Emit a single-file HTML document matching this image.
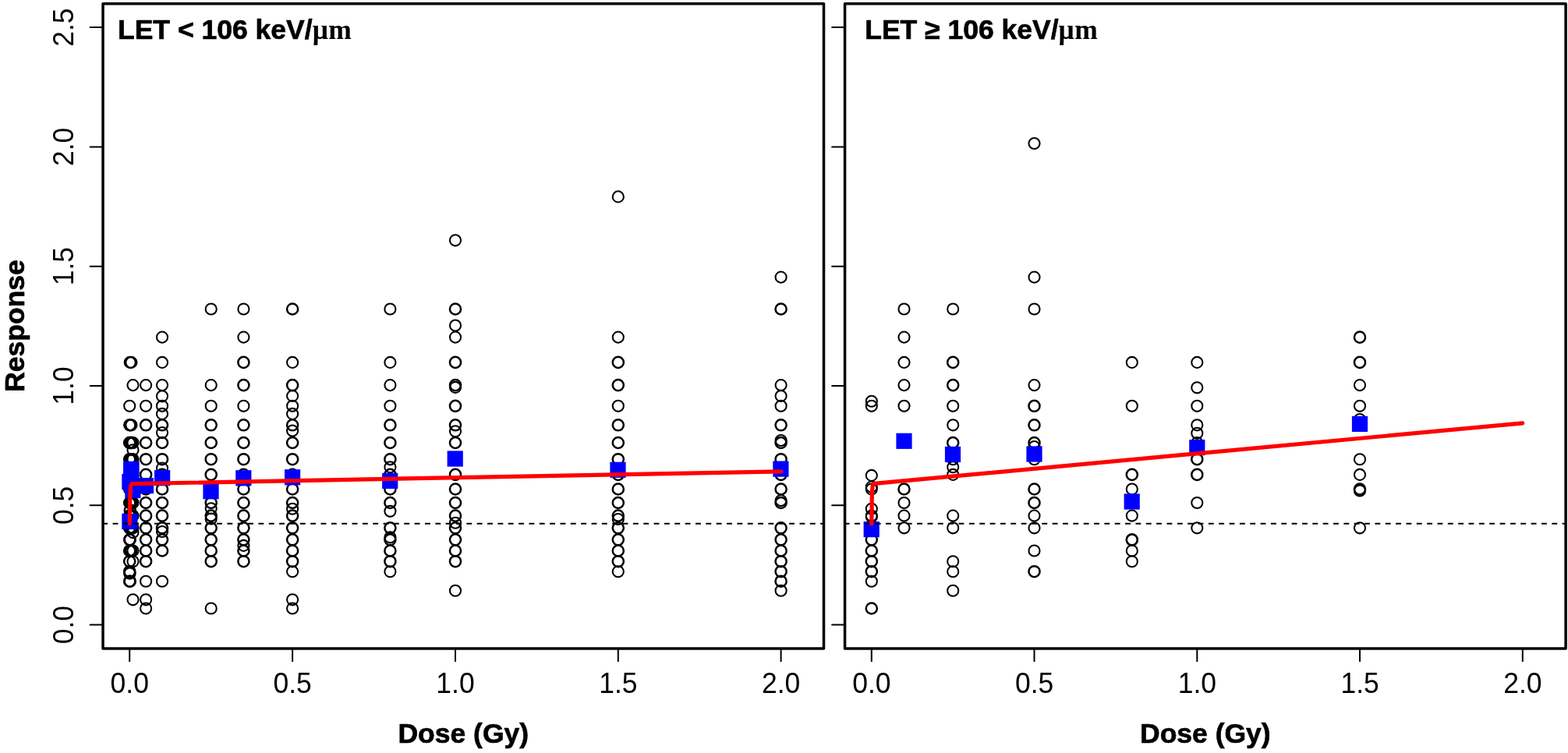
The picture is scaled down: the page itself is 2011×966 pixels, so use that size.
<!DOCTYPE html>
<html lang="en"><head><meta charset="utf-8"><title>Dose response by LET</title>
<style>
html,body{margin:0;padding:0;background:#fff;}
body{width:2011px;height:966px;overflow:hidden;}
svg{display:block;}
text{font-family:"Liberation Sans",Arial,Helvetica,sans-serif;fill:#000;}
.b{font-weight:bold;stroke:#000;stroke-width:0.7px;stroke-linejoin:round;}
.s{font-family:"Liberation Serif","Times New Roman",serif;font-weight:bold;stroke:none;letter-spacing:0.6px;}
.c{fill:none;stroke:#000;stroke-width:2.05;}
.k{stroke-width:2.5;}
.q{fill:#0000ff;}
.t{stroke:#000;stroke-width:2.0;fill:none;stroke-linecap:round;}
.bx{stroke:#000;stroke-width:3.5;fill:none;stroke-linejoin:round;}
.r{stroke:#ff0000;stroke-width:5.2;fill:none;stroke-linecap:round;stroke-linejoin:round;}
.d{stroke:#000;stroke-width:2.0;fill:none;stroke-dasharray:6.9 6.447;}
</style></head><body>
<svg width="2011" height="966" viewBox="0 0 2011 966">
<rect width="2011" height="966" fill="#fff"/>
<g>
<circle class="c" cx="187.1" cy="780.5" r="7.05"/>
<circle class="c" cx="187.1" cy="769.3" r="7.05"/>
<circle class="c" cx="187.1" cy="745.7" r="7.05"/>
<circle class="c k" cx="187.1" cy="720.2" r="7.05"/>
<circle class="c k" cx="187.1" cy="706.5" r="7.05"/>
<circle class="c k" cx="187.1" cy="692.3" r="7.05"/>
<circle class="c k" cx="187.1" cy="677.3" r="7.05"/>
<circle class="c k" cx="187.1" cy="661.6" r="7.05"/>
<circle class="c k" cx="187.1" cy="645.0" r="7.05"/>
<circle class="c k" cx="187.1" cy="627.5" r="7.05"/>
<circle class="c k" cx="187.1" cy="608.9" r="7.05"/>
<circle class="c k" cx="187.1" cy="589.2" r="7.05"/>
<circle class="c k" cx="187.1" cy="568.0" r="7.05"/>
<circle class="c k" cx="187.1" cy="545.3" r="7.05"/>
<circle class="c" cx="187.1" cy="520.8" r="7.05"/>
<circle class="c" cx="187.1" cy="494.1" r="7.05"/>
<circle class="c" cx="208.0" cy="745.7" r="7.05"/>
<circle class="c k" cx="208.0" cy="706.5" r="7.05"/>
<circle class="c k" cx="208.0" cy="692.3" r="7.05"/>
<circle class="c k" cx="208.0" cy="677.3" r="7.05"/>
<circle class="c k" cx="208.0" cy="661.6" r="7.05"/>
<circle class="c k" cx="208.0" cy="645.0" r="7.05"/>
<circle class="c k" cx="208.0" cy="627.5" r="7.05"/>
<circle class="c k" cx="208.0" cy="608.9" r="7.05"/>
<circle class="c k" cx="208.0" cy="589.2" r="7.05"/>
<circle class="c k" cx="208.0" cy="568.0" r="7.05"/>
<circle class="c k" cx="208.0" cy="545.3" r="7.05"/>
<circle class="c" cx="208.0" cy="520.8" r="7.05"/>
<circle class="c" cx="208.0" cy="494.1" r="7.05"/>
<circle class="c" cx="208.0" cy="464.9" r="7.05"/>
<circle class="c" cx="208.0" cy="432.6" r="7.05"/>
<circle class="c" cx="208.0" cy="682.0" r="7.05"/>
<circle class="c" cx="208.0" cy="600.6" r="7.05"/>
<circle class="c" cx="208.0" cy="508.3" r="7.05"/>
<circle class="c" cx="208.0" cy="530.9" r="7.05"/>
<circle class="c" cx="208.0" cy="555.1" r="7.05"/>
<circle class="c" cx="270.7" cy="780.5" r="7.05"/>
<circle class="c k" cx="270.7" cy="720.2" r="7.05"/>
<circle class="c k" cx="270.7" cy="706.5" r="7.05"/>
<circle class="c k" cx="270.7" cy="692.3" r="7.05"/>
<circle class="c k" cx="270.7" cy="677.3" r="7.05"/>
<circle class="c k" cx="270.7" cy="661.6" r="7.05"/>
<circle class="c k" cx="270.7" cy="645.0" r="7.05"/>
<circle class="c k" cx="270.7" cy="627.5" r="7.05"/>
<circle class="c k" cx="270.7" cy="608.9" r="7.05"/>
<circle class="c k" cx="270.7" cy="589.2" r="7.05"/>
<circle class="c k" cx="270.7" cy="568.0" r="7.05"/>
<circle class="c k" cx="270.7" cy="545.3" r="7.05"/>
<circle class="c" cx="270.7" cy="520.8" r="7.05"/>
<circle class="c" cx="270.7" cy="494.1" r="7.05"/>
<circle class="c" cx="270.7" cy="396.5" r="7.05"/>
<circle class="c" cx="270.7" cy="652.2" r="7.05"/>
<circle class="c" cx="270.7" cy="665.5" r="7.05"/>
<circle class="c k" cx="312.4" cy="720.2" r="7.05"/>
<circle class="c k" cx="312.4" cy="706.5" r="7.05"/>
<circle class="c k" cx="312.4" cy="692.3" r="7.05"/>
<circle class="c k" cx="312.4" cy="677.3" r="7.05"/>
<circle class="c k" cx="312.4" cy="661.6" r="7.05"/>
<circle class="c k" cx="312.4" cy="645.0" r="7.05"/>
<circle class="c k" cx="312.4" cy="627.5" r="7.05"/>
<circle class="c k" cx="312.4" cy="608.9" r="7.05"/>
<circle class="c k" cx="312.4" cy="589.2" r="7.05"/>
<circle class="c k" cx="312.4" cy="568.0" r="7.05"/>
<circle class="c k" cx="312.4" cy="545.3" r="7.05"/>
<circle class="c" cx="312.4" cy="520.8" r="7.05"/>
<circle class="c k" cx="312.4" cy="494.1" r="7.05"/>
<circle class="c k" cx="312.4" cy="464.9" r="7.05"/>
<circle class="c" cx="312.4" cy="432.6" r="7.05"/>
<circle class="c" cx="312.4" cy="396.5" r="7.05"/>
<circle class="c" cx="312.4" cy="699.9" r="7.05"/>
<circle class="c" cx="375.1" cy="780.5" r="7.05"/>
<circle class="c" cx="375.1" cy="769.3" r="7.05"/>
<circle class="c" cx="375.1" cy="733.2" r="7.05"/>
<circle class="c k" cx="375.1" cy="720.2" r="7.05"/>
<circle class="c k" cx="375.1" cy="706.5" r="7.05"/>
<circle class="c k" cx="375.1" cy="692.3" r="7.05"/>
<circle class="c k" cx="375.1" cy="677.3" r="7.05"/>
<circle class="c k" cx="375.1" cy="661.6" r="7.05"/>
<circle class="c k" cx="375.1" cy="645.0" r="7.05"/>
<circle class="c k" cx="375.1" cy="627.5" r="7.05"/>
<circle class="c k" cx="375.1" cy="608.9" r="7.05"/>
<circle class="c k" cx="375.1" cy="589.2" r="7.05"/>
<circle class="c k" cx="375.1" cy="568.0" r="7.05"/>
<circle class="c k" cx="375.1" cy="545.3" r="7.05"/>
<circle class="c" cx="375.1" cy="520.8" r="7.05"/>
<circle class="c k" cx="375.1" cy="494.1" r="7.05"/>
<circle class="c" cx="375.1" cy="464.9" r="7.05"/>
<circle class="c k" cx="375.1" cy="396.5" r="7.05"/>
<circle class="c" cx="375.1" cy="652.7" r="7.05"/>
<circle class="c" cx="375.1" cy="507.9" r="7.05"/>
<circle class="c" cx="375.1" cy="530.9" r="7.05"/>
<circle class="c" cx="375.1" cy="552.6" r="7.05"/>
<circle class="c" cx="500.4" cy="733.2" r="7.05"/>
<circle class="c k" cx="500.4" cy="720.2" r="7.05"/>
<circle class="c k" cx="500.4" cy="706.5" r="7.05"/>
<circle class="c k" cx="500.4" cy="692.3" r="7.05"/>
<circle class="c k" cx="500.4" cy="677.3" r="7.05"/>
<circle class="c k" cx="500.4" cy="645.0" r="7.05"/>
<circle class="c k" cx="500.4" cy="627.5" r="7.05"/>
<circle class="c k" cx="500.4" cy="608.9" r="7.05"/>
<circle class="c k" cx="500.4" cy="589.2" r="7.05"/>
<circle class="c k" cx="500.4" cy="568.0" r="7.05"/>
<circle class="c k" cx="500.4" cy="545.3" r="7.05"/>
<circle class="c" cx="500.4" cy="520.8" r="7.05"/>
<circle class="c" cx="500.4" cy="494.1" r="7.05"/>
<circle class="c" cx="500.4" cy="464.9" r="7.05"/>
<circle class="c" cx="500.4" cy="396.5" r="7.05"/>
<circle class="c" cx="500.4" cy="689.3" r="7.05"/>
<circle class="c" cx="500.4" cy="655.8" r="7.05"/>
<circle class="c" cx="500.4" cy="599.2" r="7.05"/>
<circle class="c" cx="584.0" cy="757.7" r="7.05"/>
<circle class="c k" cx="584.0" cy="720.2" r="7.05"/>
<circle class="c k" cx="584.0" cy="706.5" r="7.05"/>
<circle class="c k" cx="584.0" cy="692.3" r="7.05"/>
<circle class="c k" cx="584.0" cy="677.3" r="7.05"/>
<circle class="c k" cx="584.0" cy="661.6" r="7.05"/>
<circle class="c k" cx="584.0" cy="645.0" r="7.05"/>
<circle class="c k" cx="584.0" cy="627.5" r="7.05"/>
<circle class="c k" cx="584.0" cy="608.9" r="7.05"/>
<circle class="c k" cx="584.0" cy="589.2" r="7.05"/>
<circle class="c k" cx="584.0" cy="568.0" r="7.05"/>
<circle class="c k" cx="584.0" cy="545.3" r="7.05"/>
<circle class="c k" cx="584.0" cy="520.8" r="7.05"/>
<circle class="c k" cx="584.0" cy="494.1" r="7.05"/>
<circle class="c k" cx="584.0" cy="464.9" r="7.05"/>
<circle class="c" cx="584.0" cy="432.6" r="7.05"/>
<circle class="c k" cx="584.0" cy="396.5" r="7.05"/>
<circle class="c" cx="584.0" cy="308.3" r="7.05"/>
<circle class="c" cx="584.0" cy="670.7" r="7.05"/>
<circle class="c" cx="584.0" cy="553.2" r="7.05"/>
<circle class="c" cx="584.0" cy="496.9" r="7.05"/>
<circle class="c" cx="584.0" cy="417.5" r="7.05"/>
<circle class="c" cx="792.8" cy="733.2" r="7.05"/>
<circle class="c k" cx="792.8" cy="720.2" r="7.05"/>
<circle class="c k" cx="792.8" cy="706.5" r="7.05"/>
<circle class="c k" cx="792.8" cy="692.3" r="7.05"/>
<circle class="c k" cx="792.8" cy="677.3" r="7.05"/>
<circle class="c k" cx="792.8" cy="661.6" r="7.05"/>
<circle class="c k" cx="792.8" cy="645.0" r="7.05"/>
<circle class="c k" cx="792.8" cy="627.5" r="7.05"/>
<circle class="c k" cx="792.8" cy="608.9" r="7.05"/>
<circle class="c k" cx="792.8" cy="589.2" r="7.05"/>
<circle class="c k" cx="792.8" cy="568.0" r="7.05"/>
<circle class="c k" cx="792.8" cy="545.3" r="7.05"/>
<circle class="c" cx="792.8" cy="520.8" r="7.05"/>
<circle class="c k" cx="792.8" cy="494.1" r="7.05"/>
<circle class="c k" cx="792.8" cy="464.9" r="7.05"/>
<circle class="c" cx="792.8" cy="432.6" r="7.05"/>
<circle class="c" cx="792.8" cy="252.4" r="7.05"/>
<circle class="c" cx="792.8" cy="666.0" r="7.05"/>
<circle class="c" cx="1001.6" cy="757.7" r="7.05"/>
<circle class="c k" cx="1001.6" cy="745.7" r="7.05"/>
<circle class="c k" cx="1001.6" cy="733.2" r="7.05"/>
<circle class="c k" cx="1001.6" cy="720.2" r="7.05"/>
<circle class="c k" cx="1001.6" cy="706.5" r="7.05"/>
<circle class="c k" cx="1001.6" cy="692.3" r="7.05"/>
<circle class="c k" cx="1001.6" cy="677.3" r="7.05"/>
<circle class="c k" cx="1001.6" cy="645.0" r="7.05"/>
<circle class="c k" cx="1001.6" cy="627.5" r="7.05"/>
<circle class="c k" cx="1001.6" cy="608.9" r="7.05"/>
<circle class="c k" cx="1001.6" cy="589.2" r="7.05"/>
<circle class="c k" cx="1001.6" cy="568.0" r="7.05"/>
<circle class="c k" cx="1001.6" cy="545.3" r="7.05"/>
<circle class="c" cx="1001.6" cy="520.8" r="7.05"/>
<circle class="c" cx="1001.6" cy="494.1" r="7.05"/>
<circle class="c k" cx="1001.6" cy="396.5" r="7.05"/>
<circle class="c" cx="1001.6" cy="355.6" r="7.05"/>
<circle class="c" cx="1001.6" cy="642.1" r="7.05"/>
<circle class="c" cx="1001.6" cy="507.9" r="7.05"/>
<circle class="c" cx="1001.6" cy="565.0" r="7.05"/>
<circle class="c k" cx="166.2" cy="745.7" r="7.05"/>
<circle class="c k" cx="166.2" cy="733.2" r="7.05"/>
<circle class="c k" cx="166.2" cy="720.2" r="7.05"/>
<circle class="c k" cx="166.2" cy="706.5" r="7.05"/>
<circle class="c k" cx="166.2" cy="692.3" r="7.05"/>
<circle class="c k" cx="166.2" cy="677.3" r="7.05"/>
<circle class="c k" cx="166.2" cy="661.6" r="7.05"/>
<circle class="c k" cx="166.2" cy="645.0" r="7.05"/>
<circle class="c k" cx="166.2" cy="627.5" r="7.05"/>
<circle class="c k" cx="166.2" cy="608.9" r="7.05"/>
<circle class="c k" cx="166.2" cy="589.2" r="7.05"/>
<circle class="c k" cx="166.2" cy="568.0" r="7.05"/>
<circle class="c" cx="166.2" cy="545.3" r="7.05"/>
<circle class="c" cx="166.2" cy="520.8" r="7.05"/>
<circle class="c k" cx="166.7" cy="745.7" r="7.05"/>
<circle class="c k" cx="166.7" cy="706.5" r="7.05"/>
<circle class="c k" cx="166.7" cy="692.3" r="7.05"/>
<circle class="c k" cx="166.7" cy="677.3" r="7.05"/>
<circle class="c k" cx="166.7" cy="661.6" r="7.05"/>
<circle class="c k" cx="166.7" cy="645.0" r="7.05"/>
<circle class="c k" cx="166.7" cy="589.2" r="7.05"/>
<circle class="c k" cx="166.7" cy="568.0" r="7.05"/>
<circle class="c" cx="166.7" cy="545.3" r="7.05"/>
<circle class="c" cx="166.7" cy="464.9" r="7.05"/>
<circle class="c k" cx="168.4" cy="706.5" r="7.05"/>
<circle class="c k" cx="168.4" cy="677.3" r="7.05"/>
<circle class="c k" cx="168.4" cy="661.6" r="7.05"/>
<circle class="c k" cx="168.4" cy="645.0" r="7.05"/>
<circle class="c k" cx="168.4" cy="589.2" r="7.05"/>
<circle class="c k" cx="168.4" cy="568.0" r="7.05"/>
<circle class="c" cx="168.4" cy="545.3" r="7.05"/>
<circle class="c" cx="168.4" cy="464.9" r="7.05"/>
<circle class="c" cx="170.5" cy="677.3" r="7.05"/>
<circle class="c k" cx="167.5" cy="677.3" r="7.05"/>
<circle class="c k" cx="169.5" cy="677.3" r="7.05"/>
<circle class="c" cx="170.5" cy="661.6" r="7.05"/>
<circle class="c k" cx="167.5" cy="661.6" r="7.05"/>
<circle class="c k" cx="169.5" cy="661.6" r="7.05"/>
<circle class="c" cx="170.5" cy="645.0" r="7.05"/>
<circle class="c k" cx="167.5" cy="645.0" r="7.05"/>
<circle class="c k" cx="169.5" cy="645.0" r="7.05"/>
<circle class="c" cx="170.5" cy="589.2" r="7.05"/>
<circle class="c k" cx="167.5" cy="589.2" r="7.05"/>
<circle class="c k" cx="169.5" cy="589.2" r="7.05"/>
<circle class="c" cx="170.5" cy="568.0" r="7.05"/>
<circle class="c k" cx="167.5" cy="568.0" r="7.05"/>
<circle class="c k" cx="169.5" cy="568.0" r="7.05"/>
<circle class="c k" cx="166.4" cy="735.4" r="7.05"/>
<circle class="c k" cx="166.8" cy="654.6" r="7.05"/>
<circle class="c" cx="170.5" cy="769.3" r="7.05"/>
<circle class="c" cx="170.5" cy="720.2" r="7.05"/>
<circle class="c" cx="170.5" cy="706.5" r="7.05"/>
<circle class="c" cx="170.5" cy="494.1" r="7.05"/>
<circle class="c" cx="170.5" cy="683.1" r="7.05"/>
<circle class="c" cx="170.5" cy="577.2" r="7.05"/>
<rect class="q" x="156.3" y="658.9" width="20.2" height="20.2"/>
<rect class="q" x="156.3" y="608.0" width="20.2" height="20.2"/>
<rect class="q" x="158.2" y="591.8" width="20.2" height="20.2"/>
<rect class="q" x="158.2" y="593.0" width="20.2" height="20.2"/>
<rect class="q" x="160.3" y="618.9" width="20.2" height="20.2"/>
<rect class="q" x="176.9" y="613.0" width="20.2" height="20.2"/>
<rect class="q" x="198.0" y="603.1" width="20.2" height="20.2"/>
<rect class="q" x="260.4" y="620.2" width="20.2" height="20.2"/>
<rect class="q" x="302.2" y="603.2" width="20.2" height="20.2"/>
<rect class="q" x="365.0" y="602.2" width="20.2" height="20.2"/>
<rect class="q" x="490.1" y="606.8" width="20.2" height="20.2"/>
<rect class="q" x="573.6" y="578.4" width="20.2" height="20.2"/>
<rect class="q" x="782.4" y="592.7" width="20.2" height="20.2"/>
<rect class="q" x="991.3" y="591.5" width="20.2" height="20.2"/>
<rect class="q" x="175.8" y="613.0" width="2.0" height="15.2"/>
<line class="d" x1="131.2" y1="671.8" x2="1056.5" y2="671.8"/>
<path class="r" d="M166.25,671.80 L166.67,643.61 L167.09,630.94 L167.50,625.24 L167.92,622.68 L168.34,621.53 L168.76,621.00 L169.17,620.76 L169.59,620.65 L1001.60,604.80"/>
<rect class="bx" x="132.03" y="4.73" width="924.47" height="827.21"/>
<line class="t" x1="166.2" y1="831.9" x2="166.2" y2="848.3"/>
<text transform="translate(166.25 889.30) scale(1 1.035)" font-size="35.5" text-anchor="middle">0.0</text>
<line class="t" x1="375.1" y1="831.9" x2="375.1" y2="848.3"/>
<text transform="translate(375.10 889.30) scale(1 1.035)" font-size="35.5" text-anchor="middle">0.5</text>
<line class="t" x1="584.0" y1="831.9" x2="584.0" y2="848.3"/>
<text transform="translate(583.95 889.30) scale(1 1.035)" font-size="35.5" text-anchor="middle">1.0</text>
<line class="t" x1="792.8" y1="831.9" x2="792.8" y2="848.3"/>
<text transform="translate(792.80 889.30) scale(1 1.035)" font-size="35.5" text-anchor="middle">1.5</text>
<line class="t" x1="1001.6" y1="831.9" x2="1001.6" y2="848.3"/>
<text transform="translate(1001.65 889.30) scale(1 1.035)" font-size="35.5" text-anchor="middle">2.0</text>
<line class="t" x1="115.6" y1="801.6" x2="132.0" y2="801.6"/>
<text transform="translate(93.80 801.65) rotate(-90) scale(1 1.035)" font-size="35.5" text-anchor="middle">0.0</text>
<line class="t" x1="115.6" y1="648.3" x2="132.0" y2="648.3"/>
<text transform="translate(93.80 648.34) rotate(-90) scale(1 1.035)" font-size="35.5" text-anchor="middle">0.5</text>
<line class="t" x1="115.6" y1="495.0" x2="132.0" y2="495.0"/>
<text transform="translate(93.80 495.02) rotate(-90) scale(1 1.035)" font-size="35.5" text-anchor="middle">1.0</text>
<line class="t" x1="115.6" y1="341.7" x2="132.0" y2="341.7"/>
<text transform="translate(93.80 341.70) rotate(-90) scale(1 1.035)" font-size="35.5" text-anchor="middle">1.5</text>
<line class="t" x1="115.6" y1="188.4" x2="132.0" y2="188.4"/>
<text transform="translate(93.80 188.39) rotate(-90) scale(1 1.035)" font-size="35.5" text-anchor="middle">2.0</text>
<line class="t" x1="115.6" y1="35.1" x2="132.0" y2="35.1"/>
<text transform="translate(93.80 35.07) rotate(-90) scale(1 1.035)" font-size="35.5" text-anchor="middle">2.5</text>
<text class="b" transform="translate(151.00 50.10) scale(1 1.0)" font-size="35.5" text-anchor="start">LET &lt; 106 keV/<tspan class="s">μm</tspan></text>
<text class="b" transform="translate(594.26 952.70) scale(1 1.0)" font-size="35.5" text-anchor="middle">Dose (Gy)</text>
</g>
<g>
<circle class="c k" cx="1117.8" cy="780.5" r="7.05"/>
<circle class="c" cx="1117.8" cy="745.7" r="7.05"/>
<circle class="c k" cx="1117.8" cy="733.2" r="7.05"/>
<circle class="c k" cx="1117.8" cy="720.2" r="7.05"/>
<circle class="c k" cx="1117.8" cy="706.5" r="7.05"/>
<circle class="c k" cx="1117.8" cy="692.3" r="7.05"/>
<circle class="c" cx="1117.8" cy="677.3" r="7.05"/>
<circle class="c" cx="1117.8" cy="661.6" r="7.05"/>
<circle class="c" cx="1117.8" cy="520.8" r="7.05"/>
<circle class="c" cx="1117.8" cy="609.9" r="7.05"/>
<circle class="c" cx="1117.8" cy="624.6" r="7.05"/>
<circle class="c" cx="1117.8" cy="627.6" r="7.05"/>
<circle class="c" cx="1117.8" cy="652.7" r="7.05"/>
<circle class="c" cx="1117.8" cy="514.7" r="7.05"/>
<circle class="c" cx="1117.8" cy="663.0" r="7.05"/>
<circle class="c" cx="1159.5" cy="677.3" r="7.05"/>
<circle class="c" cx="1159.5" cy="661.6" r="7.05"/>
<circle class="c" cx="1159.5" cy="645.0" r="7.05"/>
<circle class="c k" cx="1159.5" cy="627.5" r="7.05"/>
<circle class="c" cx="1159.5" cy="520.8" r="7.05"/>
<circle class="c" cx="1159.5" cy="494.1" r="7.05"/>
<circle class="c" cx="1159.5" cy="464.9" r="7.05"/>
<circle class="c" cx="1159.5" cy="432.6" r="7.05"/>
<circle class="c" cx="1159.5" cy="396.5" r="7.05"/>
<circle class="c" cx="1222.2" cy="757.7" r="7.05"/>
<circle class="c" cx="1222.2" cy="733.2" r="7.05"/>
<circle class="c" cx="1222.2" cy="720.2" r="7.05"/>
<circle class="c" cx="1222.2" cy="677.3" r="7.05"/>
<circle class="c" cx="1222.2" cy="661.6" r="7.05"/>
<circle class="c" cx="1222.2" cy="608.9" r="7.05"/>
<circle class="c" cx="1222.2" cy="589.2" r="7.05"/>
<circle class="c k" cx="1222.2" cy="568.0" r="7.05"/>
<circle class="c" cx="1222.2" cy="545.3" r="7.05"/>
<circle class="c" cx="1222.2" cy="520.8" r="7.05"/>
<circle class="c k" cx="1222.2" cy="494.1" r="7.05"/>
<circle class="c k" cx="1222.2" cy="464.9" r="7.05"/>
<circle class="c" cx="1222.2" cy="396.5" r="7.05"/>
<circle class="c" cx="1222.2" cy="599.2" r="7.05"/>
<circle class="c k" cx="1326.5" cy="733.2" r="7.05"/>
<circle class="c" cx="1326.5" cy="706.5" r="7.05"/>
<circle class="c" cx="1326.5" cy="677.3" r="7.05"/>
<circle class="c" cx="1326.5" cy="661.6" r="7.05"/>
<circle class="c k" cx="1326.5" cy="645.0" r="7.05"/>
<circle class="c k" cx="1326.5" cy="627.5" r="7.05"/>
<circle class="c" cx="1326.5" cy="589.2" r="7.05"/>
<circle class="c k" cx="1326.5" cy="568.0" r="7.05"/>
<circle class="c k" cx="1326.5" cy="545.3" r="7.05"/>
<circle class="c k" cx="1326.5" cy="520.8" r="7.05"/>
<circle class="c" cx="1326.5" cy="494.1" r="7.05"/>
<circle class="c" cx="1326.5" cy="396.5" r="7.05"/>
<circle class="c" cx="1326.5" cy="355.6" r="7.05"/>
<circle class="c" cx="1326.5" cy="184.0" r="7.05"/>
<circle class="c" cx="1326.5" cy="573.1" r="7.05"/>
<circle class="c" cx="1451.8" cy="720.2" r="7.05"/>
<circle class="c" cx="1451.8" cy="706.5" r="7.05"/>
<circle class="c k" cx="1451.8" cy="692.3" r="7.05"/>
<circle class="c" cx="1451.8" cy="661.6" r="7.05"/>
<circle class="c" cx="1451.8" cy="627.5" r="7.05"/>
<circle class="c k" cx="1451.8" cy="608.9" r="7.05"/>
<circle class="c" cx="1451.8" cy="520.8" r="7.05"/>
<circle class="c" cx="1451.8" cy="464.9" r="7.05"/>
<circle class="c" cx="1451.8" cy="692.8" r="7.05"/>
<circle class="c" cx="1535.3" cy="677.3" r="7.05"/>
<circle class="c" cx="1535.3" cy="645.0" r="7.05"/>
<circle class="c k" cx="1535.3" cy="608.9" r="7.05"/>
<circle class="c k" cx="1535.3" cy="589.2" r="7.05"/>
<circle class="c" cx="1535.3" cy="568.0" r="7.05"/>
<circle class="c" cx="1535.3" cy="545.3" r="7.05"/>
<circle class="c" cx="1535.3" cy="520.8" r="7.05"/>
<circle class="c" cx="1535.3" cy="464.9" r="7.05"/>
<circle class="c" cx="1535.3" cy="497.3" r="7.05"/>
<circle class="c" cx="1535.3" cy="555.8" r="7.05"/>
<circle class="c" cx="1744.0" cy="677.3" r="7.05"/>
<circle class="c k" cx="1744.0" cy="627.5" r="7.05"/>
<circle class="c" cx="1744.0" cy="608.9" r="7.05"/>
<circle class="c" cx="1744.0" cy="589.2" r="7.05"/>
<circle class="c" cx="1744.0" cy="520.8" r="7.05"/>
<circle class="c" cx="1744.0" cy="494.1" r="7.05"/>
<circle class="c k" cx="1744.0" cy="464.9" r="7.05"/>
<circle class="c k" cx="1744.0" cy="432.6" r="7.05"/>
<circle class="c" cx="1744.0" cy="629.5" r="7.05"/>
<circle class="c" cx="1744.0" cy="538.0" r="7.05"/>
<rect class="q" x="1107.6" y="669.0" width="20.2" height="20.2"/>
<rect class="q" x="1149.4" y="555.7" width="20.2" height="20.2"/>
<rect class="q" x="1211.9" y="572.8" width="20.2" height="20.2"/>
<rect class="q" x="1316.4" y="572.4" width="20.2" height="20.2"/>
<rect class="q" x="1441.6" y="633.4" width="20.2" height="20.2"/>
<rect class="q" x="1525.2" y="564.0" width="20.2" height="20.2"/>
<rect class="q" x="1733.9" y="533.8" width="20.2" height="20.2"/>
<line class="d" x1="1082.7" y1="671.8" x2="2008.1" y2="671.8"/>
<path class="r" d="M1117.80,671.80 L1118.22,641.23 L1118.63,628.91 L1119.05,623.95 L1119.47,621.93 L1119.89,621.09 L1120.31,620.73 L1120.72,620.56 L1121.14,620.46 L1952.70,542.90"/>
<rect class="bx" x="1083.55" y="4.73" width="924.55" height="827.21"/>
<line class="t" x1="1117.8" y1="831.9" x2="1117.8" y2="848.3"/>
<text transform="translate(1117.80 889.30) scale(1 1.035)" font-size="35.5" text-anchor="middle">0.0</text>
<line class="t" x1="1326.5" y1="831.9" x2="1326.5" y2="848.3"/>
<text transform="translate(1326.55 889.30) scale(1 1.035)" font-size="35.5" text-anchor="middle">0.5</text>
<line class="t" x1="1535.3" y1="831.9" x2="1535.3" y2="848.3"/>
<text transform="translate(1535.30 889.30) scale(1 1.035)" font-size="35.5" text-anchor="middle">1.0</text>
<line class="t" x1="1744.0" y1="831.9" x2="1744.0" y2="848.3"/>
<text transform="translate(1744.05 889.30) scale(1 1.035)" font-size="35.5" text-anchor="middle">1.5</text>
<line class="t" x1="1952.8" y1="831.9" x2="1952.8" y2="848.3"/>
<text transform="translate(1952.80 889.30) scale(1 1.035)" font-size="35.5" text-anchor="middle">2.0</text>
<line class="t" x1="1067.1" y1="801.6" x2="1083.5" y2="801.6"/>
<line class="t" x1="1067.1" y1="648.3" x2="1083.5" y2="648.3"/>
<line class="t" x1="1067.1" y1="495.0" x2="1083.5" y2="495.0"/>
<line class="t" x1="1067.1" y1="341.7" x2="1083.5" y2="341.7"/>
<line class="t" x1="1067.1" y1="188.4" x2="1083.5" y2="188.4"/>
<line class="t" x1="1067.1" y1="35.1" x2="1083.5" y2="35.1"/>
<text class="b" transform="translate(1109.20 50.10) scale(1 1.0)" font-size="35.5" text-anchor="start">LET ≥ 106 keV/<tspan class="s">μm</tspan></text>
<text class="b" transform="translate(1545.82 952.70) scale(1 1.0)" font-size="35.5" text-anchor="middle">Dose (Gy)</text>
</g>
<text class="b" transform="translate(31.40 418.00) rotate(-90) scale(1 1.0)" font-size="35.5" text-anchor="middle">Response</text>
</svg></body></html>
